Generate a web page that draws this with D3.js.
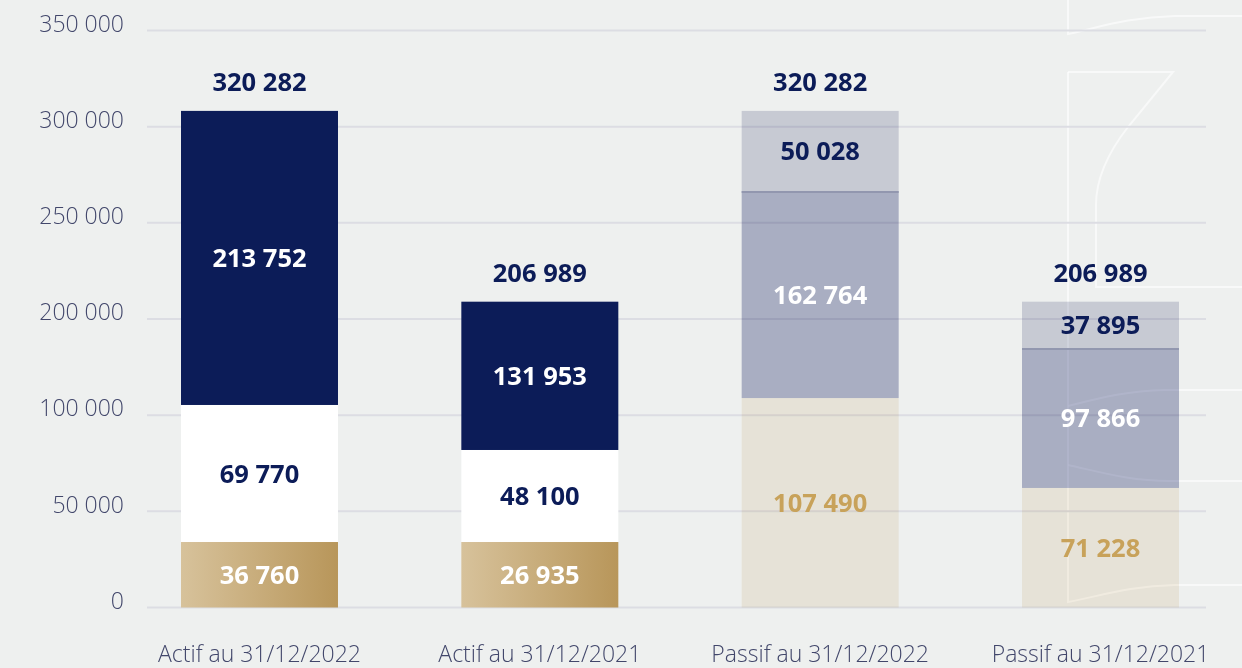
<!DOCTYPE html>
<html>
<head>
<meta charset="utf-8">
<script src="https://cdn.jsdelivr.net/npm/d3@7"></script>
<style>
  html, body { margin: 0; padding: 0; background: #eef0ef; }
  svg { display: block; }
</style>
</head>
<body>
<svg id="chart" width="1242" height="668"></svg>
<script>
// ---------- DATA ----------
const categories = ["Actif au 31/12/2022", "Actif au 31/12/2021", "Passif au 31/12/2022", "Passif au 31/12/2021"];
// axis tick labels (as printed, note: 150 000 is absent on the original axis)
const tickValues = [0, 50000, 100000, 200000, 250000, 300000, 350000];
const tickLabels = ["0", "50 000", "100 000", "200 000", "250 000", "300 000", "350 000"];

// Printed figures
const totals = ["320 282", "206 989", "320 282", "206 989"];
const bottomLabels = ["36 760", "26 935", "107 490", "71 228"];
const middleLabels = ["69 770", "48 100", "162 764", "97 866"];
const topLabels    = ["213 752", "131 953", "50 028", "37 895"];

// Segment heights as drawn, read against the printed axis
const bottomPlotted = [34050, 34050, 117800, 62150];
const middlePlotted = [76550, 47850, 148750, 107650];
const topPlotted    = [197600, 127100, 41650, 39200];

// ---------- SETUP ----------
const W = 1242, H = 668;
const svg = d3.select("#chart");
const FONT = "'Open Sans', 'Noto Sans', sans-serif";

svg.append("rect").attr("width", W).attr("height", H).attr("fill", "#eef0ef");

const defs = svg.append("defs");
const grad = defs.append("linearGradient").attr("id", "gold").attr("x1", "0").attr("x2", "1").attr("y1", "0").attr("y2", "0");
grad.append("stop").attr("offset", "0%").attr("stop-color", "#d7c29b");
grad.append("stop").attr("offset", "100%").attr("stop-color", "#b8965a");

// decorative white outline shapes (background ornament)
const deco = svg.append("g").attr("fill", "none").attr("stroke", "#ffffff").attr("stroke-opacity", 0.6).attr("stroke-width", 2);
[
  "M1068,0 V34 C1100,27 1130,17 1175,16 H1242",
  "M1068,72 H1173 L1128,127 Q1096,168 1096,205 V287 H1242",
  "M1068,72 V602 C1100,596 1130,586 1175,585 H1242",
  "M1068,406 C1100,398 1125,391 1165,390 H1242",
  "M1068,465 C1100,472 1130,481 1170,481 H1242"
].forEach(p => deco.append("path").attr("d", p));

// ---------- SCALES ----------
const yBottom = 607.5, yTop = 30.5;
const y = d3.scaleLinear()
  .domain(tickValues)
  .range(tickValues.map((d, i) => yBottom - i * (yBottom - yTop) / (tickValues.length - 1)));

const x = d3.scaleBand().domain(categories).range([181, 1179]).paddingInner(0.44).paddingOuter(0);

// ---------- GRID + Y AXIS ----------
const grid = svg.append("g");
grid.selectAll("line").data(tickValues).join("line")
  .attr("x1", 147).attr("x2", 1206)
  .attr("y1", d => y(d)).attr("y2", d => y(d))
  .attr("stroke", "#dcdde3").attr("stroke-width", 2);

const yAxis = d3.axisLeft(y).tickValues(tickValues).tickFormat((d, i) => tickLabels[i]).tickSize(0).tickPadding(0);
const yg = svg.append("g").attr("transform", "translate(124,0)").call(yAxis);
yg.select(".domain").remove();
yg.selectAll("text")
  .attr("font-family", FONT).attr("font-weight", 300).attr("font-size", 23)
  .attr("fill", "#42476b").attr("dy", "0.03em");

// ---------- BARS ----------
const rows = categories.map((c, i) => ({ cat: c, bottom: bottomPlotted[i], middle: middlePlotted[i], top: topPlotted[i] }));
const stack = d3.stack().keys(["bottom", "middle", "top"]);
const series = stack(rows);

const actifFill = { bottom: "url(#gold)", middle: "#ffffff", top: "#0c1c58" };
const passifFill = { bottom: "#f7f1e6", middle: "#b5b9cf", top: "#d5d7e2" };
const isActif = c => c.startsWith("Actif");

const barsG = svg.append("g");
series.forEach(s => {
  barsG.selectAll(null).data(s).join("rect")
    .attr("x", d => x(d.data.cat))
    .attr("width", x.bandwidth())
    .attr("y", d => y(d[1]))
    .attr("height", d => y(d[0]) - y(d[1]))
    .attr("fill", d => isActif(d.data.cat) ? actifFill[s.key] : passifFill[s.key])
    .style("mix-blend-mode", d => isActif(d.data.cat) ? "normal" : "multiply");
});

// divider line between middle and top of passif bars
const midSeries = series[1];
barsG.selectAll(null).data(midSeries.filter(d => !isActif(d.data.cat))).join("line")
  .attr("x1", d => x(d.data.cat)).attr("x2", d => x(d.data.cat) + x.bandwidth())
  .attr("y1", d => y(d[1]) + 1).attr("y2", d => y(d[1]) + 1)
  .attr("stroke", "#9297af").attr("stroke-width", 2);

// ---------- LABELS ----------
const labelsG = svg.append("g").attr("font-family", FONT).attr("font-weight", 700).attr("font-size", 25.5).attr("text-anchor", "middle");
const segLabels = { bottom: bottomLabels, middle: middleLabels, top: topLabels };
const labelColor = (key, cat) => {
  if (isActif(cat)) return key === "middle" ? "#0c1c58" : "#ffffff";
  if (key === "bottom") return "#c8a25a";
  if (key === "middle") return "#ffffff";
  return "#0c1c58";
};
series.forEach(s => {
  labelsG.selectAll(null).data(s).join("text")
    .attr("x", d => x(d.data.cat) + x.bandwidth() / 2)
    .attr("y", d => (y(d[0]) + y(d[1])) / 2)
    .attr("dy", "0.36em")
    .attr("fill", d => labelColor(s.key, d.data.cat))
    .text((d, i) => segLabels[s.key][i]);
});
labelsG.selectAll(null).data(series[2]).join("text")
  .attr("x", d => x(d.data.cat) + x.bandwidth() / 2)
  .attr("y", d => y(d[1]) - 20)
  .attr("fill", "#0c1c58")
  .text((d, i) => totals[i]);

// ---------- X AXIS LABELS ----------
svg.append("g").selectAll("text").data(categories).join("text")
  .attr("x", d => x(d) + x.bandwidth() / 2)
  .attr("y", 662)
  .attr("text-anchor", "middle")
  .attr("font-family", FONT).attr("font-weight", 300).attr("font-size", 23)
  .attr("fill", "#42476b")
  .text(d => d);
</script>
</body>
</html>
